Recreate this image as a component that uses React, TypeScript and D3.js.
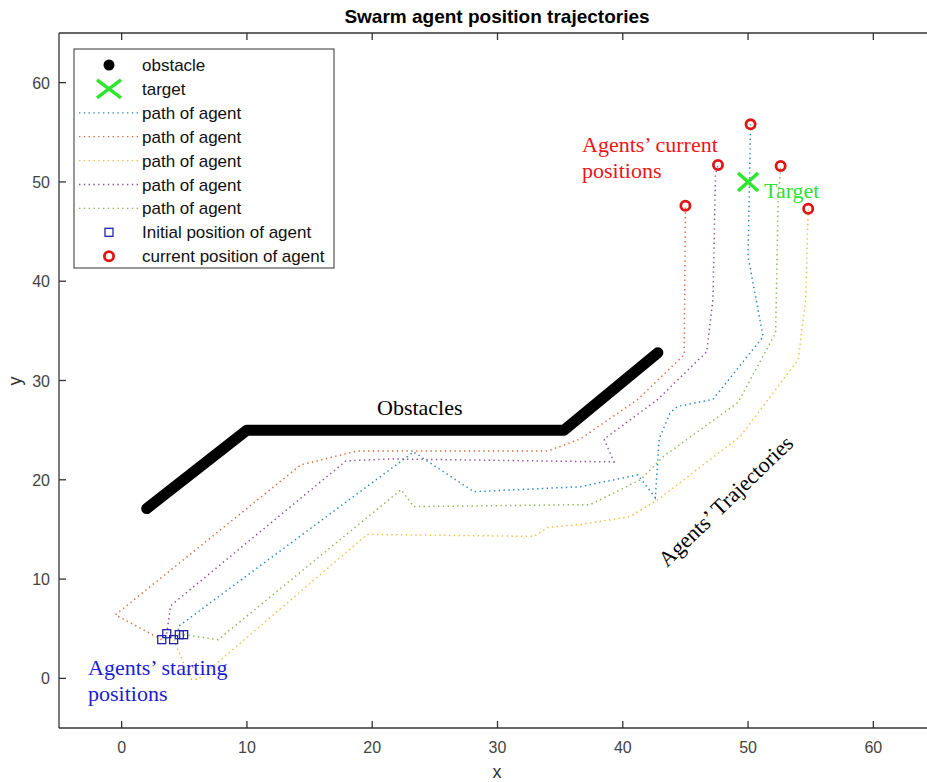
import * as d3 from 'd3';
import React from 'react';

// axis ticks
const xTicks = [0, 10, 20, 30, 40, 50, 60];
const yTicks = [0, 10, 20, 30, 40, 50, 60];

// obstacle polyline vertices
const obstacleX = [2, 10, 35.3, 42.8];
const obstacleY = [17.1, 25, 25, 32.8];

// target
const targetX = 50;
const targetY = 50;

// agents: blue, orange, yellow, purple, green
const agentColors = ['#0072BD', '#D95319', '#EDB120', '#7E2F8E', '#77AC30'];
const startX = [4.6, 3.2, 4.15, 3.6, 4.95];
const startY = [4.4, 3.9, 3.9, 4.5, 4.4];
const currentX = [50.2, 45.0, 54.8, 47.6, 52.6];
const currentY = [55.8, 47.6, 47.3, 51.7, 51.6];

const pathBlue = [
  [4.5, 5.2], [23.3, 22.8], [28.1, 18.8], [36.6, 19.3], [41.2, 20.5], [42.6, 18.2],
  [42.9, 24.1], [43.8, 26.8], [44.4, 27.4], [47.2, 28.1], [51.2, 34.4], [50.0, 42.5],
];
const pathOrange = [
  [-0.5, 6.4], [14.3, 21.5], [18.8, 22.9], [34.0, 22.9], [36.6, 24.1], [41.2, 28.1], [44.9, 32.6],
];
const pathYellow = [
  [5.5, -0.1], [6.1, -0.1], [19.6, 14.5], [32.9, 14.3], [34.0, 15.2], [36.6, 15.5],
  [40.6, 16.3], [42.8, 18.0], [49.4, 24.4], [54.0, 32.1], [54.6, 38.2],
];
const pathPurple = [
  [3.9, 7.3], [17.9, 21.9], [21.5, 22.1], [39.3, 21.8], [38.5, 24.1], [42.8, 28.1],
  [46.7, 32.9], [47.2, 38.2], [47.4, 50.8],
];
const pathGreen = [
  [7.7, 3.9], [22.3, 19.0], [23.3, 17.3], [37.4, 17.5], [41.4, 20.0], [43.3, 22.4],
  [49.2, 27.8], [52.2, 34.8], [52.4, 48.2],
];
const agentPaths = [pathBlue, pathOrange, pathYellow, pathPurple, pathGreen];

const legendLabels = [
  'obstacle', 'target', 'path of agent', 'path of agent', 'path of agent',
  'path of agent', 'path of agent', 'Initial position of agent', 'current position of agent',
];

const W = 927;
const H = 782;
const sans = 'Arial, "Liberation Sans", Helvetica, sans-serif';
const serif = '"Times New Roman", "Liberation Serif", serif';
const axisColor = '#333333';
const dotted = '1.4 3.4';

function XMark({ cx, cy, w, h }: { cx: number; cy: number; w: number; h: number }) {
  return (
    <g stroke="#2ee62e" strokeWidth={3.5} strokeLinecap="butt">
      <line x1={cx - w} y1={cy - h} x2={cx + w} y2={cy + h} />
      <line x1={cx - w} y1={cy + h} x2={cx + w} y2={cy - h} />
    </g>
  );
}

export default function App() {
  const x = d3.scaleLinear().domain([-5, 65]).range([59, 936]);
  const y = d3.scaleLinear().domain([-5, 65]).range([728, 33]);

  const line = d3
    .line<number[]>()
    .x((d) => x(d[0]))
    .y((d) => y(d[1]));

  const obstaclePts = obstacleX.map((v, i) => [v, obstacleY[i]]);
  const fullPaths = agentPaths.map((p, i) => [
    [startX[i], startY[i]],
    ...p,
    [currentX[i], currentY[i]],
  ]);

  const left = x.range()[0];
  const right = x.range()[1];
  const bottom = y.range()[0];
  const top = y.range()[1];

  // legend layout
  const lgX = 74, lgY = 49, lgW = 260, lgH = 219;
  const rowY = (i: number) => 65 + i * 23.9;

  return (
    <div style={{ position: 'absolute', left: 0, top: 0 }}>
      <svg width={W} height={H} style={{ display: 'block', background: '#fff' }}>
        <defs>
          <clipPath id="plot">
            <rect x={left} y={top} width={right - left} height={bottom - top} />
          </clipPath>
        </defs>
        <text x={497} y={23} textAnchor="middle" fontFamily={sans} fontWeight="bold" fontSize={19} fill="#000">
          Swarm agent position trajectories
        </text>

        <g clipPath="url(#plot)">
          {fullPaths.map((p, i) => (
            <path key={i} d={line(p) || ''} fill="none" stroke={agentColors[i]} strokeWidth={1.5}
              strokeOpacity={0.85} strokeDasharray={dotted} />
          ))}
          <path d={line(obstaclePts) || ''} fill="none" stroke="#000" strokeWidth={11}
            strokeLinecap="round" strokeLinejoin="round" />
          <XMark cx={x(targetX)} cy={y(targetY)} w={10} h={9} />
          {startX.map((v, i) => (
            <rect key={i} x={x(v) - 4} y={y(startY[i]) - 4} width={8} height={8}
              fill="none" stroke="#2424a8" strokeWidth={1.3} />
          ))}
          {currentX.map((v, i) => (
            <circle key={i} cx={x(v)} cy={y(currentY[i])} r={4.6} fill="none" stroke="#e01414" strokeWidth={2.8} />
          ))}
        </g>

        {/* axes box */}
        <g stroke={axisColor} strokeWidth={1.3} fill="none">
          <line x1={left} y1={top} x2={W} y2={top} />
          <line x1={left} y1={bottom} x2={W} y2={bottom} />
          <line x1={left} y1={top} x2={left} y2={bottom} />
          {xTicks.map((t) => (
            <g key={t}>
              <line x1={x(t)} x2={x(t)} y1={bottom} y2={bottom - 7} />
              <line x1={x(t)} x2={x(t)} y1={top} y2={top + 7} />
            </g>
          ))}
          {yTicks.map((t) => (
            <line key={t} x1={left} x2={left + 7} y1={y(t)} y2={y(t)} />
          ))}
        </g>
        <g fontFamily={sans} fontSize={16} fill="#444">
          {xTicks.map((t) => (
            <text key={t} x={x(t)} y={bottom + 25} textAnchor="middle">{t}</text>
          ))}
          {yTicks.map((t) => (
            <text key={t} x={left - 9} y={y(t) + 6} textAnchor="end">{t}</text>
          ))}
        </g>
        <text x={497} y={778} textAnchor="middle" fontFamily={sans} fontSize={18} fill="#333">x</text>
        <text transform="translate(21,381) rotate(-90)" textAnchor="middle" fontFamily={sans} fontSize={18} fill="#333">y</text>

        {/* legend */}
        <rect x={lgX} y={lgY} width={lgW} height={lgH} fill="#fff" stroke={axisColor} strokeWidth={1} />
        <circle cx={109} cy={rowY(0)} r={5.5} fill="#000" />
        <XMark cx={109} cy={rowY(1)} w={12} h={9} />
        {agentColors.map((c, i) => (
          <line key={i} x1={79} x2={140} y1={rowY(i + 2)} y2={rowY(i + 2)} stroke={c}
            strokeWidth={1.3} strokeOpacity={0.85} strokeDasharray={dotted} />
        ))}
        <rect x={105} y={rowY(7) - 4} width={8} height={8} fill="none" stroke="#2424a8" strokeWidth={1.3} />
        <circle cx={109} cy={rowY(8)} r={4.6} fill="none" stroke="#e01414" strokeWidth={2.8} />
        <g fontFamily={sans} fontSize={17} fill="#111">
          {legendLabels.map((l, i) => (
            <text key={i} x={142} y={rowY(i) + 6}>{l}</text>
          ))}
        </g>

        {/* annotations */}
        <g fontFamily={serif} fontSize={22}>
          <text x={377} y={415} fill="#000">Obstacles</text>
          <text x={582} y={152} fill="#f01414">Agents’ current</text>
          <text x={582} y={178} fill="#f01414">positions</text>
          <text x={764} y={198} fill="#33e033">Target</text>
          <text x={88} y={675} fill="#1c1cd0">Agents’ starting</text>
          <text x={88} y={701} fill="#1c1cd0">positions</text>
          <text transform="translate(667,568) rotate(-44)" fill="#000">Agents’ Trajectories</text>
        </g>
      </svg>
    </div>
  );
}
